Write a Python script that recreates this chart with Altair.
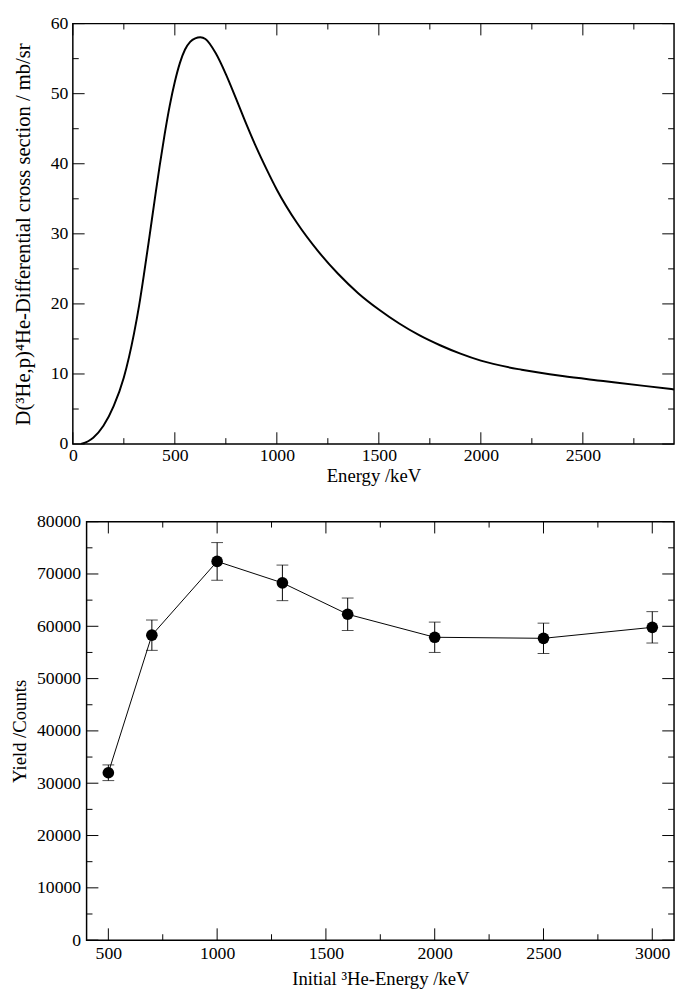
import altair as alt
import pandas as pd

# ---------------- data ----------------
energy = [40, 75, 100, 150, 200, 250, 300, 325, 350, 375, 400, 425, 450,
          475, 500, 525, 550, 575, 600, 625, 650, 700, 750, 800, 850, 900,
          950, 1000, 1100, 1200, 1300, 1400, 1500, 1600, 1700, 1800, 1900,
          2000, 2200, 2400, 2600, 2800, 2947]
sigma = [0.0, 0.4, 0.9, 2.6, 5.4, 9.5, 15.8, 19.8, 24.5, 29.5, 34.6, 39.6,
         44.2, 48.3, 51.7, 54.4, 56.3, 57.4, 57.9, 58.05, 57.8, 55.8, 52.8,
         49.3, 45.7, 42.3, 39.2, 36.3, 31.5, 27.6, 24.3, 21.5, 19.2, 17.2,
         15.5, 14.1, 12.9, 11.9, 10.6, 9.7, 9.0, 8.3, 7.8]

yield_energy = [500, 700, 1000, 1300, 1600, 2000, 2500, 3000]
yield_counts = [32000, 58300, 72400, 68300, 62300, 57900, 57700, 59800]
yield_error = [1500, 2900, 3600, 3400, 3100, 2900, 2900, 3000]

top_x_major = [0, 500, 1000, 1500, 2000, 2500]
top_x_minor = [250, 750, 1250, 1750, 2250, 2750]
top_y_major = [0, 10, 20, 30, 40, 50, 60]
top_y_minor = [5, 15, 25, 35, 45, 55]

bot_x_major = [500, 1000, 1500, 2000, 2500, 3000]
bot_x_minor = [750, 1250, 1750, 2250, 2750]
bot_y_major = [0, 10000, 20000, 30000, 40000, 50000, 60000, 70000, 80000]
bot_y_minor = [5000, 15000, 25000, 35000, 45000, 55000, 65000, 75000]

top_x_title = "Energy /keV"
top_y_title = "D(\u00b3He,p)\u2074He-Differential cross section / mb/sr"
bot_x_title = "Initial \u00b3He-Energy /keV"
bot_y_title = "Yield /Counts"

FONT = "Liberation Serif"

# ---------------- layout ----------------
W1, H1 = 612, 428
W2, H2 = 598, 426
LMAJ, LMIN = 12, 6


def tick_layers(xmaj, xmin, ymaj, ymin, xscale, yscale, xaxis, yaxis, W, H):
    layers = []
    for vals, L in [(xmaj, LMAJ), (xmin, LMIN)]:
        df = pd.DataFrame({"t": vals})
        base = alt.Chart(df).mark_rule(color="black", strokeWidth=1)
        xenc = alt.X("t:Q", scale=xscale, axis=xaxis)
        layers.append(base.encode(x=xenc, y=alt.value(H), y2=alt.value(H - L)))
        layers.append(base.encode(x=xenc, y=alt.value(0), y2=alt.value(L)))
    for vals, L in [(ymaj, LMAJ), (ymin, LMIN)]:
        df = pd.DataFrame({"t": vals})
        base = alt.Chart(df).mark_rule(color="black", strokeWidth=1)
        yenc = alt.Y("t:Q", scale=yscale, axis=yaxis)
        layers.append(base.encode(y=yenc, x=alt.value(0), x2=alt.value(L)))
        layers.append(base.encode(y=yenc, x=alt.value(W), x2=alt.value(W - L)))
    return layers


# ---------------- top panel ----------------
xs1 = alt.Scale(domain=[0, 2947], nice=False, zero=False)
ys1 = alt.Scale(domain=[0, 60], nice=False, zero=False)
ax_x1 = alt.Axis(values=top_x_major, title=top_x_title, format="d",
                 labelPadding=3, titlePadding=2)
ax_y1 = alt.Axis(values=top_y_major, title=top_y_title, format="d",
                 labelPadding=5, titlePadding=17, titleFontSize=21)

curve_df = pd.DataFrame({"E": energy, "S": sigma})
curve = alt.Chart(curve_df).mark_line(
    color="black", strokeWidth=2, interpolate="monotone", clip=True
).encode(
    x=alt.X("E:Q", scale=xs1, axis=ax_x1),
    y=alt.Y("S:Q", scale=ys1, axis=ax_y1),
)

top = alt.layer(
    curve, *tick_layers(top_x_major, top_x_minor, top_y_major, top_y_minor,
                        xs1, ys1, ax_x1, ax_y1, W1, H1)
).properties(width=W1, height=H1)

# ---------------- bottom panel ----------------
xs2 = alt.Scale(domain=[400, 3100], nice=False, zero=False)
ys2 = alt.Scale(domain=[0, 80000], nice=False, zero=False)
ax_x2 = alt.Axis(values=bot_x_major, title=bot_x_title, format="d",
                 labelPadding=5, titlePadding=7)
ax_y2 = alt.Axis(values=bot_y_major, title=bot_y_title, format="d",
                 labelPadding=6, titlePadding=7)

ydf = pd.DataFrame({"E": yield_energy, "Y": yield_counts, "err": yield_error})
ydf["lo"] = ydf["Y"] - ydf["err"]
ydf["hi"] = ydf["Y"] + ydf["err"]

X2 = alt.X("E:Q", scale=xs2, axis=ax_x2)
ybase = alt.Chart(ydf)
yline = ybase.mark_line(color="black", strokeWidth=1).encode(
    x=X2, y=alt.Y("Y:Q", scale=ys2, axis=ax_y2))
ybars = ybase.mark_rule(color="black", strokeWidth=1).encode(
    x=X2, y=alt.Y("lo:Q", scale=ys2, axis=ax_y2), y2="hi:Q")
ycap_lo = ybase.mark_tick(color="black", orient="horizontal", size=12,
                          thickness=1).encode(
    x=X2, y=alt.Y("lo:Q", scale=ys2, axis=ax_y2))
ycap_hi = ybase.mark_tick(color="black", orient="horizontal", size=12,
                          thickness=1).encode(
    x=X2, y=alt.Y("hi:Q", scale=ys2, axis=ax_y2))
ypts = ybase.mark_circle(color="black", size=140, opacity=1).encode(
    x=X2, y=alt.Y("Y:Q", scale=ys2, axis=ax_y2))

bottom = alt.layer(
    yline, ybars, ycap_lo, ycap_hi, ypts,
    *tick_layers(bot_x_major, bot_x_minor, bot_y_major, bot_y_minor,
                 xs2, ys2, ax_x2, ax_y2, W2, H2)
).properties(width=W2, height=H2)

spacer = alt.Chart(pd.DataFrame({"t": [0]})).mark_point(opacity=0).encode(
    x=alt.value(0), y=alt.value(0)
).properties(width=1, height=H2, view=alt.ViewBackground(stroke="transparent"))

bottom_row = alt.hconcat(spacer, bottom, spacing=13, bounds="flush")

chart = alt.vconcat(top, bottom_row, spacing=79, bounds="flush").properties(
    padding={"left": 2, "top": -3, "right": 0, "bottom": 0},
    background="white",
).configure_view(
    stroke="black", strokeWidth=1.5
).configure_axis(
    domain=False, ticks=False, tickSize=0, grid=False,
    labelFont=FONT, labelFontSize=18, labelColor="black",
    labelFlush=False, labelOverlap=False,
    titleFont=FONT, titleFontSize=19, titleFontWeight="normal",
    titleColor="black",
)

chart.save("out.html", embed_options={"renderer": "svg", "actions": False})
